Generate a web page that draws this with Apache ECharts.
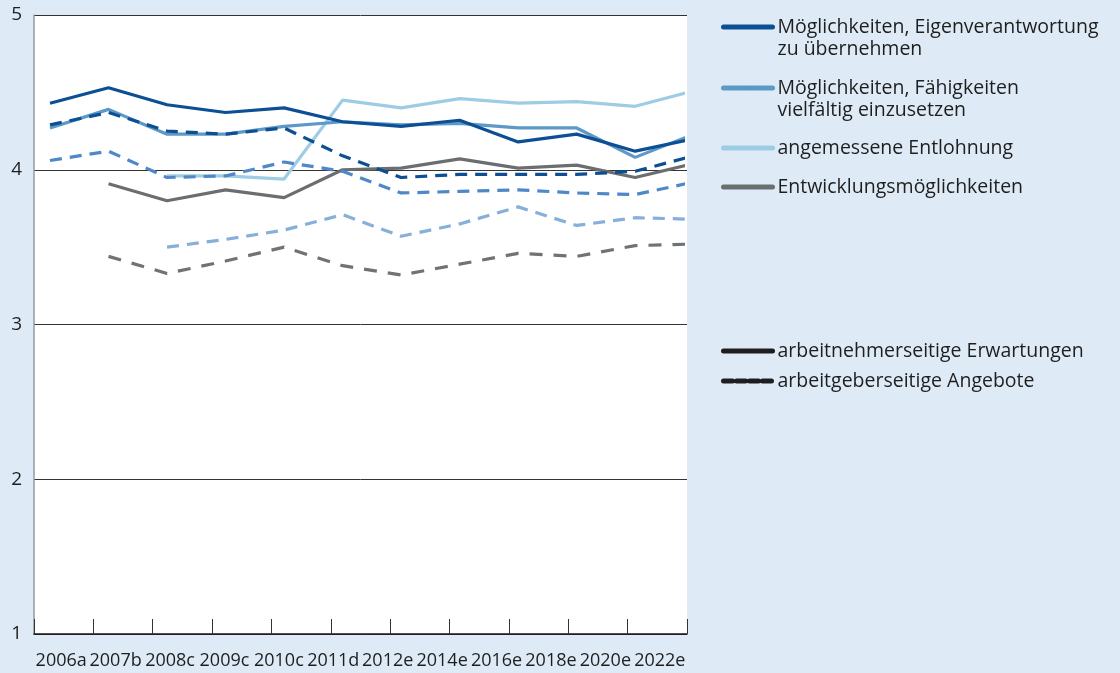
<!DOCTYPE html>
<html>
<head>
<meta charset="utf-8">
<script src="https://cdn.jsdelivr.net/npm/echarts@6/dist/echarts.min.js"></script>
<style>
  html, body { margin: 0; padding: 0; background: #deebf7; }
  #chart { width: 1120px; height: 673px; }
</style>
</head>
<body>
<div id="chart"></div>
<script>
const years = ['2006a', '2007b', '2008c', '2009c', '2010c', '2011d', '2012e', '2014e', '2016e', '2018e', '2020e', '2022e']
const yTicks = [1, 2, 3, 4, 5]

const topicNames = [
  'Möglichkeiten, Eigenverantwortung\nzu übernehmen',
  'Möglichkeiten, Fähigkeiten\nvielfältig einzusetzen',
  'angemessene Entlohnung',
  'Entwicklungsmöglichkeiten'
]
const styleNames = ['arbeitnehmerseitige Erwartungen', 'arbeitgeberseitige Angebote']

// arbeitnehmerseitige Erwartungen (durchgezogen)
const eigenErw = [4.43, 4.53, 4.42, 4.37, 4.40, 4.31, 4.28, 4.32, 4.18, 4.23, 4.12, 4.20]
const faehErw = [4.27, 4.39, 4.23, 4.23, 4.28, 4.31, 4.29, 4.30, 4.27, 4.27, 4.08, 4.23]
const lohnErw = [null, null, 3.96, 3.96, 3.94, 4.45, 4.40, 4.46, 4.43, 4.44, 4.41, 4.51]
const entwErw = [null, 3.91, 3.80, 3.87, 3.82, 4.00, 4.01, 4.07, 4.01, 4.03, 3.95, 4.04]

// arbeitgeberseitige Angebote (gestrichelt)
const eigenAng = [4.29, 4.37, 4.25, 4.23, 4.27, 4.09, 3.95, 3.97, 3.97, 3.97, 3.99, 4.09]
const faehAng = [4.06, 4.12, 3.95, 3.96, 4.05, 3.99, 3.85, 3.86, 3.87, 3.85, 3.84, 3.92]
const lohnAng = [null, null, 3.50, 3.55, 3.61, 3.71, 3.57, 3.65, 3.76, 3.64, 3.69, 3.68]
const entwAng = [null, 3.44, 3.33, 3.41, 3.50, 3.38, 3.32, 3.39, 3.46, 3.44, 3.51, 3.52]

const solidColors = ['#0d4f94', '#5d99c6', '#9dcde4', '#6b6e70']
const dashColors = ['#0d4f94', '#4e88c9', '#86afd9', '#707274']

const font = 'Open Sans'
const textColor = '#1e1e1e'

const toPoints = arr => arr.map((v, i) => [i, v])

const solidSeries = [eigenErw, faehErw, lohnErw, entwErw]
const dashSeries = [eigenAng, faehAng, lohnAng, entwAng]
// draw order: grey/light underneath, dark on top
const drawOrder = [3, 2, 1, 0]

const series = []
// legend icon is taken from the first series of a name -> empty solid ones first
;[0, 1, 2, 3].forEach(i => {
  series.push({
    type: 'line',
    name: topicNames[i],
    data: [],
    symbol: 'none',
    color: solidColors[i],
    lineStyle: { width: 3, color: solidColors[i] },
    silent: true
  })
})
drawOrder.forEach(i => {
  series.push({
    type: 'line',
    name: topicNames[i],
    xAxisIndex: 0,
    yAxisIndex: 0,
    data: toPoints(solidSeries[i]),
    symbol: 'none',
    color: solidColors[i],
    lineStyle: { width: 3.2, color: solidColors[i] },
    z: 3
  })
})
drawOrder.forEach(i => {
  series.push({
    type: 'line',
    name: topicNames[i],
    xAxisIndex: 0,
    yAxisIndex: 0,
    data: toPoints(dashSeries[i]),
    symbol: 'none',
    color: dashColors[i],
    lineStyle: { width: 3.2, color: dashColors[i], type: i === 3 ? [13, 11] : [12, 8] },
    z: 4
  })
})
series.push({
  type: 'line', name: styleNames[0], data: [], symbol: 'none', color: textColor,
  lineStyle: { width: 4, color: textColor }
})
series.push({
  type: 'line', name: styleNames[1], data: [], symbol: 'none', color: textColor,
  lineStyle: { width: 4, color: textColor, type: [9, 4] }
})

// one legend per entry to get the spacing of the original
const legendCentres = [27, 88, 148, 187, 351, 381] // icon centre
const legendNames = topicNames.concat(styleNames)
const legends = legendNames.map((name, i) => {
  const twoLines = name.indexOf('\n') >= 0
  return {
    data: [name],
    left: 721,
    top: twoLines ? legendCentres[i] - 33 : legendCentres[i] - 11,
    orient: 'vertical',
    padding: 0,
    itemWidth: 49,
    itemHeight: 5,
    selectedMode: false,
    lineStyle: { width: 5, cap: 'round' },
    // blank first line so the icon sits next to the first text line
    formatter: n => (twoLines ? '\u00a0\n' + n : n),
    textStyle: {
      fontFamily: font,
      fontSize: 19.5,
      lineHeight: 22,
      color: textColor
    }
  }
})

const chart = echarts.init(document.getElementById('chart'))
chart.setOption({
  backgroundColor: '#deebf7',
  animation: false,
  textStyle: { fontFamily: font },
  legend: legends,
  grid: [
    { left: 50, top: 15, width: 632, height: 619, show: false },
    { left: 34, top: 15, width: 653, height: 619, show: true, backgroundColor: '#fff', borderWidth: 0 }
  ],
  xAxis: [
    {
      gridIndex: 0, type: 'value', min: 0, max: 10.8, show: false
    },
    {
      gridIndex: 1, type: 'category', data: years, position: 'bottom', boundaryGap: true,
      axisTick: { show: false },
      axisLine: { lineStyle: { color: '#1a1a1a', width: 1.5 } },
      axisLabel: { fontFamily: font, fontSize: 18, color: textColor, margin: 18, interval: 0 }
    },
    {
      gridIndex: 1, type: 'value', min: 0, max: years.length - 1, interval: 1, position: 'bottom',
      axisLine: { show: false },
      axisLabel: { show: false },
      splitLine: { show: false },
      axisTick: { show: true, inside: true, length: 15, lineStyle: { color: '#333', width: 1 } }
    }
  ],
  yAxis: [
    { gridIndex: 0, type: 'value', min: yTicks[0], max: yTicks[yTicks.length - 1], show: false },
    {
      gridIndex: 1, type: 'value', min: yTicks[0], max: yTicks[yTicks.length - 1], interval: 1,
      axisLine: { show: true, lineStyle: { color: '#9a9a9a', width: 1.5 } },
      axisTick: { show: false },
      axisLabel: { fontFamily: font, fontSize: 19, color: textColor, margin: 12 },
      splitLine: { show: true, lineStyle: { color: '#333', width: 1 } }
    }
  ],
  series: series
})
</script>
</body>
</html>
